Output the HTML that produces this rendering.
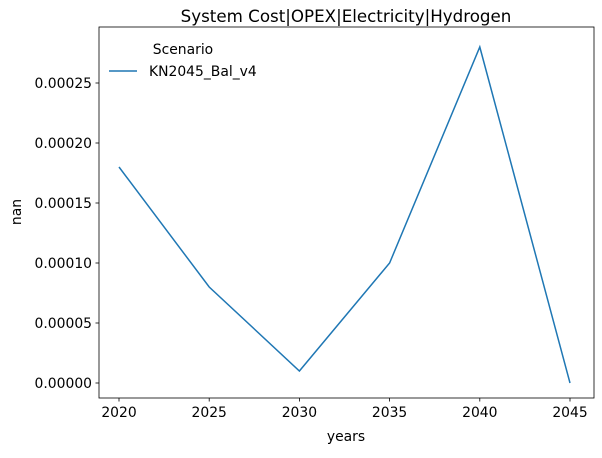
<!DOCTYPE html>
<html><head><meta charset="utf-8"><style>
body{margin:0;background:#fff;font-family:"Liberation Sans","DejaVu Sans",sans-serif;}
svg text{font-family:"DejaVu Sans","Liberation Sans",sans-serif;fill:#000;}
</style></head><body>
<svg id="chart" width="602" height="453">
<rect x="0" y="0" width="602" height="453" fill="#fff"/>
<text x="346" y="22" font-size="16.7" text-anchor="middle">System Cost|OPEX|Electricity|Hydrogen</text>
<g id="ticks"></g>
<polyline id="series" fill="none" stroke="#1f77b4" stroke-width="1.5"/>
<rect x="99" y="27" width="495" height="371" fill="none" stroke="#000" stroke-width="0.8"/>
<text x="346" y="441" font-size="13.9" text-anchor="middle">years</text>
<text x="21" y="212" font-size="13.9" text-anchor="middle" transform="rotate(-90 21 212)">nan</text>
<g>
<text x="183" y="54" font-size="13.9" text-anchor="middle">Scenario</text>
<line x1="109" y1="71" x2="137" y2="71" stroke="#1f77b4" stroke-width="1.5"/>
<text x="149" y="76" font-size="13.9">KN2045_Bal_v4</text>
</g>
</svg>
<script>
const years=[2020,2025,2030,2035,2040,2045];
const values=[0.00018,0.00008,0.00001,0.0001,0.00028,0.0];
const yTicks=[0,0.00005,0.0001,0.00015,0.0002,0.00025];
const yTickLabels=["0.00000","0.00005","0.00010","0.00015","0.00020","0.00025"];
const xs=y=>119+(y-2020)*(570-119)/25;
const ys=v=>383-v*(300/0.00025);
const ns="http://www.w3.org/2000/svg";
const g=document.getElementById('ticks');
years.forEach(yr=>{
 const l=document.createElementNS(ns,'line');
 l.setAttribute('x1',xs(yr));l.setAttribute('x2',xs(yr));l.setAttribute('y1',398);l.setAttribute('y2',401.5);l.setAttribute('stroke','#000');l.setAttribute('stroke-width','0.8');
 
 
 g.appendChild(l);
 const t=document.createElementNS(ns,'text');
 t.setAttribute('x',xs(yr));t.setAttribute('y',417);t.setAttribute('font-size','13.9');t.setAttribute('text-anchor','middle');t.textContent=yr;
 
 
 g.appendChild(t);
});
yTicks.forEach((v,i)=>{
 const l=document.createElementNS(ns,'line');
 l.setAttribute('x1',95.5);l.setAttribute('x2',99);l.setAttribute('y1',ys(v));l.setAttribute('y2',ys(v));l.setAttribute('stroke','#000');l.setAttribute('stroke-width','0.8');
 
 
 g.appendChild(l);
 const t=document.createElementNS(ns,'text');
 t.setAttribute('x',92);t.setAttribute('y',ys(v)+5);t.setAttribute('font-size','13.9');t.setAttribute('text-anchor','end');t.textContent=yTickLabels[i];
 
 
 g.appendChild(t);
});
document.getElementById('series').setAttribute('points',years.map((y,i)=>xs(y)+','+ys(values[i])).join(' '));
</script>
</body></html>
